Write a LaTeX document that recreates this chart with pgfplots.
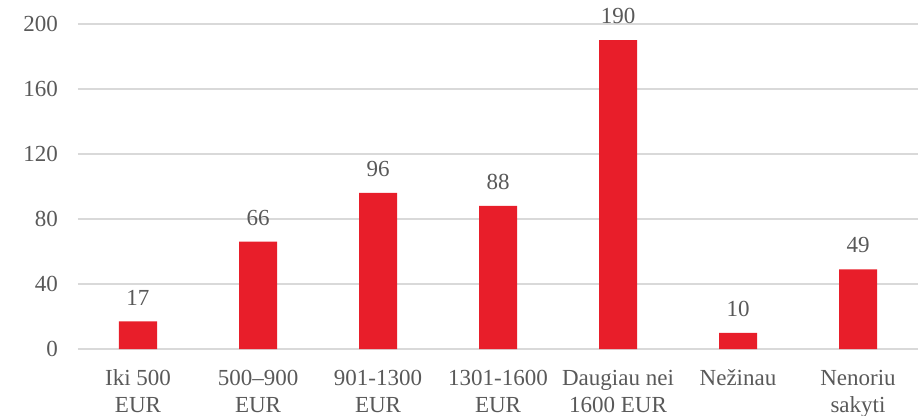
\documentclass[border=0pt]{standalone}
\usepackage{pgfplots}
\pgfplotsset{compat=1.18}
\usepackage{fontspec}
\setmainfont{Liberation Serif}
\definecolor{barred}{HTML}{E81E2A}
\definecolor{txtgray}{HTML}{595959}
\definecolor{gridgray}{HTML}{D9D9D9}

\begin{document}
\begin{tikzpicture}
\fontsize{23}{27.6}\selectfont
  \begin{axis}[
      name=ax,
      scale only axis,
      width=840pt, height=325pt,
      xmin=-0.5, xmax=6.5,
      ymin=0, ymax=200,
      ytick={0,40,...,200},
      xtick=data,
      xticklabels={{\strut Iki 500\\EUR},{\strut 500--900\\EUR},{\strut 901-1300\\EUR},{\strut 1301-1600\\EUR},{\strut Daugiau nei\\1600 EUR},{\strut Nežinau},{\strut Nenoriu\\sakyti}},
      axis line style={draw=none},
      major tick length=0pt,
      ymajorgrids=true,
      grid style={gridgray, line width=1.5pt},
      tick label style={font=\fontsize{23}{27.6}\selectfont, text=txtgray},
      /pgf/number format/assume math mode=true,
      yticklabel style={inner sep=0pt, xshift=-20pt},
      xticklabel style={align=center, anchor=north, inner sep=0pt, yshift=-16.5pt},
      ybar,
      bar width=38pt,
      nodes near coords,
      nodes near coords style={font=\fontsize{23}{27.6}\selectfont, text=txtgray, anchor=south, inner sep=0pt, yshift=16pt},
  ]
  \addplot[fill=barred, draw=none] coordinates {
      (0,17) (1,66) (2,96) (3,88) (4,190) (5,10) (6,49)
  };
  \end{axis}
  \pgfresetboundingbox
  \path (ax.south west) ++(-78pt,-66pt) coordinate (bl);
  \path (ax.north east) ++(0pt,24pt) coordinate (tr);
  \useasboundingbox (bl) rectangle (tr);
\end{tikzpicture}
\end{document}
